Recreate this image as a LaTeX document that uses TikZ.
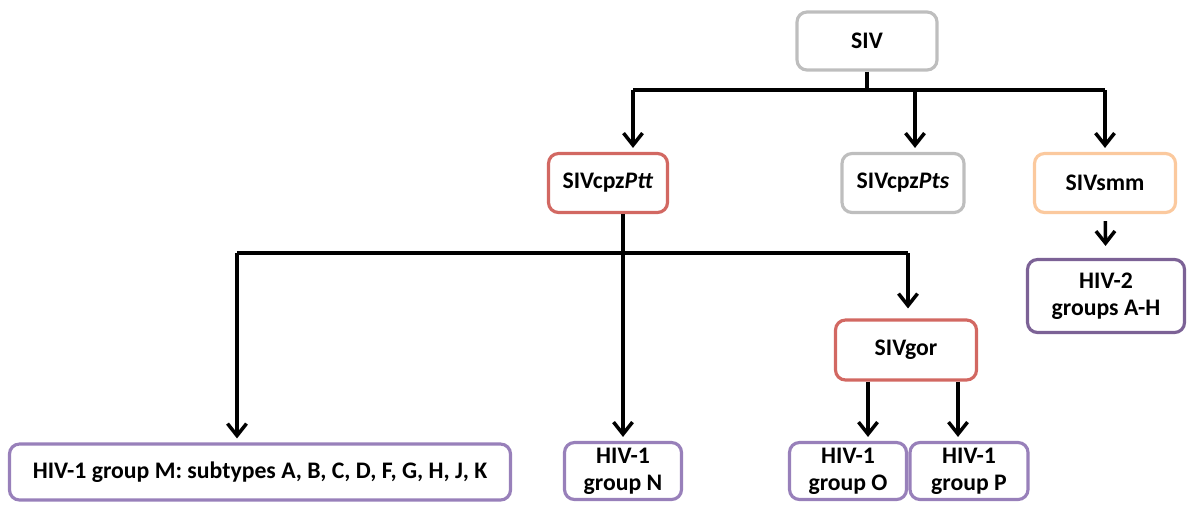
\documentclass[tikz,border=0pt]{standalone}
\usepackage{fontspec}
\setmainfont{Carlito}
\usepackage{xcolor}
\usepackage{tikz}
\usetikzlibrary{arrows.meta, positioning}
\definecolor{sivgray}{RGB}{190,190,190}
\definecolor{cpzred}{RGB}{210,104,98}
\definecolor{smmorange}{RGB}{251,201,158}
\definecolor{hivpurple}{RGB}{152,128,186}
\definecolor{hivtwopurple}{RGB}{124,98,150}

\begin{document}
\begin{tikzpicture}[
    box/.style={rectangle, rounded corners=0.2cm, draw, line width=1.8pt, align=center, font=\fontsize{13.5}{15.5}\selectfont\bfseries, inner sep=1pt},
    line/.style={line width=2pt},
    arrow/.style={-{Straight Barb[length=2.4mm, width=3.8mm]}, line width=2pt, shorten >=0.08cm}
]
\useasboundingbox (0,0) rectangle (23.74,-10.12);

% Viruses
\node[box, draw=sivgray, minimum width=2.8cm, minimum height=1.16cm] (siv) at (17.34,-0.82) {SIV};
\node[box, draw=cpzred, minimum width=2.38cm, minimum height=1.18cm] (ptt) at (12.16,-3.66) {SIVcpz\textit{Ptt}};
\node[box, draw=sivgray, minimum width=2.44cm, minimum height=1.18cm] (pts) at (18.06,-3.66) {SIVcpz\textit{Pts}};
\node[box, draw=smmorange, minimum width=2.82cm, minimum height=1.18cm] (smm) at (22.10,-3.66) {SIVsmm};
\node[box, draw=cpzred, minimum width=2.82cm, minimum height=1.2cm] (gor) at (18.12,-7.0) {SIVgor};

% HIV groups
\node[box, draw=hivtwopurple, minimum width=3.14cm, minimum height=1.46cm] (hiv2) at (22.12,-5.92) {HIV-2\\groups A-H};
\node[box, draw=hivpurple, minimum width=10.02cm, minimum height=1.12cm] (grpm) at (5.20,-9.44) {HIV-1 group M: subtypes A, B, C, D, F, G, H, J, K};
\node[box, draw=hivpurple, minimum width=2.34cm, minimum height=1.14cm] (grpn) at (12.46,-9.42) {HIV-1\\group N};
\node[box, draw=hivpurple, minimum width=2.34cm, minimum height=1.14cm] (grpo) at (16.96,-9.42) {HIV-1\\group O};
\node[box, draw=hivpurple, minimum width=2.36cm, minimum height=1.14cm] (grpp) at (19.38,-9.42) {HIV-1\\group P};

% Branch points
\coordinate (topl) at (12.66,-1.8);
\coordinate (topm) at (18.30,-1.8);
\coordinate (topr) at (22.10,-1.8);
\coordinate (midl) at (4.74,-5.06);
\coordinate (midr) at (18.16,-5.06);

% SIV to its lineages
\draw[line] (siv) -- (siv |- topl);
\draw[line] (topl) -- (topr);
\draw[arrow] (topl) -- (topl |- ptt.north);
\draw[arrow] (topm) -- (topm |- pts.north);
\draw[arrow] (topr) -- (topr |- smm.north);

% SIVcpzPtt
\draw[arrow] (ptt.south -| grpn.north) -- (grpn.north);
\draw[line] (midl) -- (midr);
\draw[arrow] (midl) -- (midl |- grpm.north);
\draw[arrow, shorten >=0.2cm] (midr) -- (midr |- gor.north);

% SIVgor
\draw[arrow] ([xshift=-0.76cm]gor.south) -- ([xshift=-0.76cm]gor.south |- grpo.north);
\draw[arrow] ([xshift=1.04cm]gor.south) -- ([xshift=1.04cm]gor.south |- grpp.north);

% SIVsmm
\draw[arrow, shorten <=0.14cm, shorten >=0.24cm] (smm) -- (hiv2);

\end{tikzpicture}
\end{document}
